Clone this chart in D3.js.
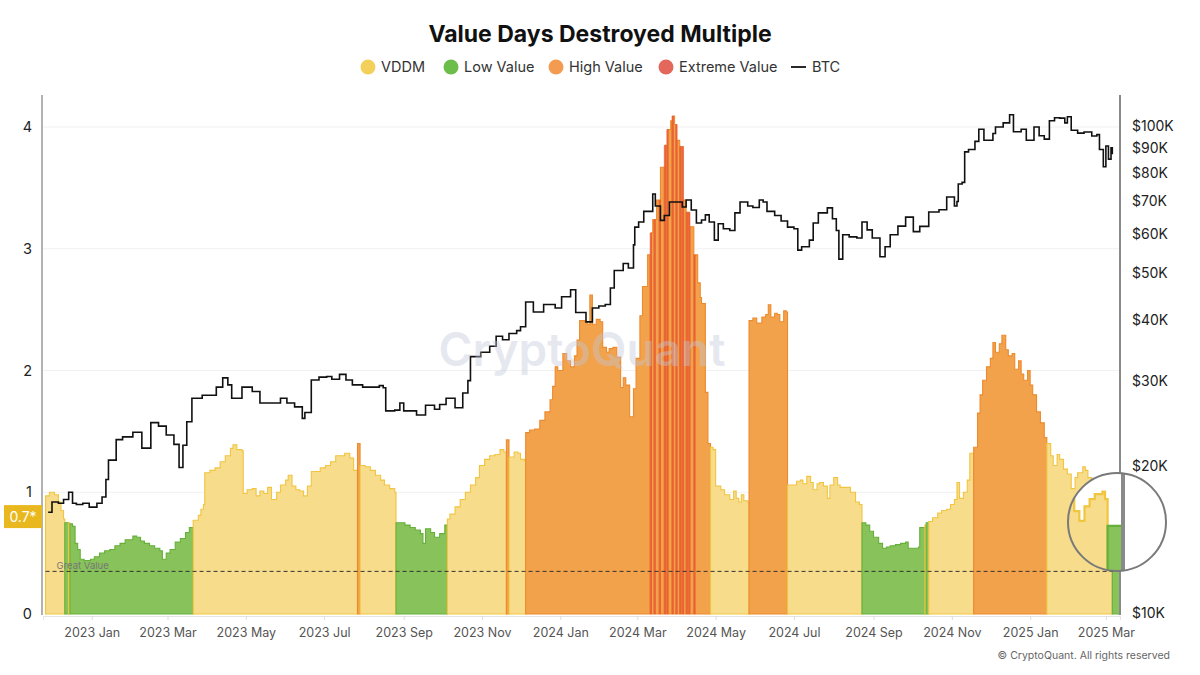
<!DOCTYPE html>
<html><head><meta charset="utf-8">
<script src="https://cdn.jsdelivr.net/npm/d3@7"></script>
<style>
body{margin:0;background:#fff;}
svg{display:block;font-family:Inter,"Noto Sans",Roboto,sans-serif;}
</style>
</head><body>
<svg id="chart" width="1200" height="675"></svg>
<script>
// ---------------- DATA ----------------
const vddmDates = [
"2022-11-26","2022-11-29","2022-12-03","2022-12-06","2022-12-08","2022-12-10","2022-12-11","2022-12-14","2022-12-15","2022-12-17",
"2022-12-19","2022-12-21","2022-12-23","2022-12-26","2022-12-31","2023-01-03","2023-01-07","2023-01-11","2023-01-15","2023-01-19",
"2023-01-23","2023-01-27","2023-01-31","2023-02-02","2023-02-05","2023-02-08","2023-02-11","2023-02-15","2023-02-19","2023-02-23",
"2023-02-25","2023-02-28","2023-03-03","2023-03-07","2023-03-11","2023-03-15","2023-03-18","2023-03-21","2023-03-25","2023-03-27",
"2023-03-29","2023-03-30","2023-04-03","2023-04-07","2023-04-11","2023-04-15","2023-04-19","2023-04-21","2023-04-24","2023-04-28",
"2023-04-29","2023-05-02","2023-05-06","2023-05-09","2023-05-12","2023-05-15","2023-05-18","2023-05-21","2023-05-25","2023-05-28",
"2023-06-01","2023-06-03","2023-06-06","2023-06-09","2023-06-12","2023-06-15","2023-06-18","2023-06-21","2023-06-24","2023-06-28",
"2023-07-02","2023-07-06","2023-07-10","2023-07-13","2023-07-17","2023-07-21","2023-07-24","2023-07-27","2023-07-29","2023-08-02",
"2023-08-06","2023-08-10","2023-08-14","2023-08-17","2023-08-21","2023-08-25","2023-08-26","2023-08-29","2023-09-02","2023-09-06",
"2023-09-10","2023-09-14","2023-09-16","2023-09-18","2023-09-22","2023-09-25","2023-09-29","2023-10-03","2023-10-05","2023-10-07",
"2023-10-11","2023-10-15","2023-10-19","2023-10-23","2023-10-27","2023-10-30","2023-11-03","2023-11-07","2023-11-11","2023-11-15",
"2023-11-18","2023-11-20","2023-11-22","2023-11-26","2023-11-29","2023-12-01","2023-12-04","2023-12-05","2023-12-08","2023-12-12",
"2023-12-16","2023-12-20","2023-12-24","2023-12-26","2023-12-28","2023-12-30","2024-01-03","2024-01-06","2024-01-09","2024-01-12",
"2024-01-14","2024-01-16","2024-01-20","2024-01-22","2024-01-24","2024-01-26","2024-01-29","2024-02-01","2024-02-03","2024-02-06",
"2024-02-08","2024-02-11","2024-02-14","2024-02-17","2024-02-19","2024-02-21","2024-02-24","2024-02-27","2024-02-29","2024-03-03",
"2024-03-05","2024-03-09","2024-03-11","2024-03-13","2024-03-16","2024-03-19","2024-03-22","2024-03-24","2024-03-27","2024-03-28",
"2024-03-30","2024-04-01","2024-04-03","2024-04-06","2024-04-08","2024-04-11","2024-04-14","2024-04-17","2024-04-19","2024-04-20",
"2024-04-23","2024-04-25","2024-04-27","2024-04-29","2024-05-01","2024-05-05","2024-05-08","2024-05-12","2024-05-15","2024-05-17",
"2024-05-19","2024-05-21","2024-05-23","2024-05-26","2024-05-27","2024-05-30","2024-06-02","2024-06-06","2024-06-09","2024-06-11",
"2024-06-13","2024-06-16","2024-06-18","2024-06-20","2024-06-23","2024-06-25","2024-06-26","2024-06-30","2024-07-03","2024-07-06",
"2024-07-08","2024-07-11","2024-07-14","2024-07-16","2024-07-19","2024-07-21","2024-07-24","2024-07-27","2024-07-29","2024-08-01",
"2024-08-04","2024-08-06","2024-08-10","2024-08-14","2024-08-18","2024-08-21","2024-08-23","2024-08-26","2024-08-29","2024-09-01",
"2024-09-05","2024-09-08","2024-09-11","2024-09-14","2024-09-18","2024-09-22","2024-09-26","2024-09-28","2024-10-02","2024-10-06",
"2024-10-07","2024-10-10","2024-10-11","2024-10-12","2024-10-14","2024-10-17","2024-10-21","2024-10-24","2024-10-28","2024-10-31",
"2024-11-03","2024-11-05","2024-11-07","2024-11-10","2024-11-13","2024-11-15","2024-11-18","2024-11-21","2024-11-23","2024-11-25",
"2024-11-28","2024-12-01","2024-12-03","2024-12-05","2024-12-08","2024-12-10","2024-12-13","2024-12-15","2024-12-18","2024-12-20",
"2024-12-23","2024-12-25","2024-12-27","2024-12-30","2025-01-01","2025-01-03","2025-01-06","2025-01-09","2025-01-12","2025-01-14",
"2025-01-17","2025-01-19","2025-01-22","2025-01-24","2025-01-27","2025-01-30","2025-02-02","2025-02-05","2025-02-07","2025-02-11",
"2025-02-13","2025-02-15","2025-02-18","2025-02-20","2025-02-21","2025-02-23","2025-02-25","2025-02-27","2025-03-01","2025-03-04",
"2025-03-05","2025-03-06","2025-03-12"];
const vddmValues = [
0.97,1.00,0.98,0.92,0.85,0.78,0.75,0.75,0.74,0.72,
0.58,0.53,0.45,0.44,0.45,0.47,0.50,0.52,0.53,0.56,
0.58,0.61,0.61,0.64,0.63,0.60,0.58,0.56,0.54,0.52,
0.45,0.50,0.53,0.59,0.62,0.67,0.71,0.77,0.81,0.86,
0.90,1.16,1.18,1.20,1.25,1.30,1.36,1.39,1.35,1.34,
0.99,1.02,1.03,0.97,1.01,0.99,1.04,0.94,1.00,1.06,
1.10,1.14,1.05,1.02,1.01,0.97,1.05,1.17,1.17,1.20,
1.22,1.25,1.30,1.30,1.32,1.28,1.18,1.40,1.22,1.21,
1.18,1.14,1.10,1.06,1.03,1.00,0.75,0.75,0.73,0.71,
0.69,0.66,0.58,0.70,0.67,0.63,0.66,0.73,0.78,0.82,
0.88,0.94,1.00,1.06,1.12,1.22,1.27,1.30,1.31,1.35,
1.33,1.43,1.29,1.33,1.32,1.27,1.26,1.49,1.51,1.52,
1.59,1.66,1.76,1.87,2.03,2.00,2.14,2.08,2.03,2.12,
2.25,2.41,2.40,2.38,2.62,2.38,2.42,2.40,2.19,2.15,
2.18,2.19,2.11,1.86,1.94,1.88,1.62,1.85,2.10,2.45,
2.69,2.95,3.13,3.24,3.40,3.67,3.85,3.98,4.05,4.09,
4.02,3.89,3.84,3.40,3.30,3.18,2.95,2.72,2.60,2.55,
1.82,1.40,1.37,1.35,1.05,1.02,0.98,0.94,1.01,0.95,
0.92,0.98,0.93,0.92,2.41,2.43,2.39,2.44,2.46,2.54,
2.44,2.47,2.46,2.40,2.49,2.48,1.06,1.06,1.09,1.10,
1.07,1.13,1.08,1.02,1.07,1.08,1.05,0.95,1.06,1.12,
1.06,1.04,1.04,1.00,0.92,0.90,0.75,0.73,0.68,0.63,
0.58,0.54,0.55,0.56,0.57,0.58,0.59,0.54,0.54,0.55,
0.71,0.71,0.73,0.75,0.76,0.79,0.83,0.85,0.86,0.90,
0.94,1.08,0.95,1.00,1.10,1.32,1.37,1.65,1.80,1.92,
2.03,2.10,2.23,2.15,2.22,2.29,2.17,2.12,2.14,2.01,
2.08,1.97,1.92,2.00,1.88,1.80,1.66,1.57,1.45,1.40,
1.30,1.22,1.31,1.27,1.19,1.15,1.03,1.12,1.16,1.21,
1.18,1.12,1.00,0.88,0.80,0.76,0.82,0.85,0.87,0.88,
0.85,0.74,0.74];

// category periods: each starts at the date and runs to the next start
const segmentStarts = [
"2022-11-26","2022-12-11","2022-12-14","2022-12-15","2023-03-21","2023-07-27","2023-07-29","2023-08-26","2023-10-05","2023-11-20",
"2023-11-22","2023-12-05","2024-03-11","2024-03-12","2024-03-14","2024-03-15","2024-03-18","2024-03-19","2024-03-22","2024-03-23",
"2024-03-24","2024-03-25","2024-03-28","2024-03-29","2024-03-31","2024-04-01","2024-04-03","2024-04-04","2024-04-05","2024-04-06",
"2024-04-08","2024-04-09","2024-04-10","2024-04-11","2024-04-14","2024-04-15","2024-04-27","2024-05-27","2024-06-26","2024-08-23",
"2024-10-11","2024-10-12","2024-10-14","2024-11-18","2025-01-14","2025-03-06"];
const segmentCategories = [
"vddm","low","vddm","low","vddm","high","vddm","low","vddm","high",
"vddm","high","extreme","high","extreme","high","extreme","high","extreme","high",
"extreme","high","extreme","high","extreme","high","extreme","high","extreme","high",
"extreme","high","extreme","high","extreme","high","vddm","high","vddm","low",
"vddm","low","vddm","high","vddm","low"];

const btcDates = [
"2022-11-28","2022-12-01","2022-12-06","2022-12-10","2022-12-14","2022-12-17","2022-12-20","2022-12-25","2022-12-30","2023-01-05",
"2023-01-09","2023-01-12","2023-01-14","2023-01-20","2023-01-25","2023-02-02","2023-02-09","2023-02-13","2023-02-16","2023-02-22",
"2023-02-28","2023-03-06","2023-03-10","2023-03-13","2023-03-16","2023-03-20","2023-03-28","2023-04-08","2023-04-13","2023-04-17",
"2023-04-20","2023-04-28","2023-05-06","2023-05-12","2023-05-20","2023-05-28","2023-06-02","2023-06-08","2023-06-14","2023-06-16",
"2023-06-21","2023-06-27","2023-07-03","2023-07-07","2023-07-13","2023-07-18","2023-07-23","2023-07-31","2023-08-07","2023-08-13",
"2023-08-16","2023-08-18","2023-08-25","2023-08-29","2023-09-01","2023-09-11","2023-09-18","2023-09-25","2023-09-29","2023-10-04",
"2023-10-11","2023-10-17","2023-10-21","2023-10-23","2023-10-31","2023-11-07","2023-11-12","2023-11-17","2023-11-22","2023-11-28",
"2023-12-01","2023-12-05","2023-12-11","2023-12-19","2023-12-28","2024-01-02","2024-01-09","2024-01-13","2024-01-21","2024-01-26",
"2024-01-31","2024-02-05","2024-02-09","2024-02-12","2024-02-19","2024-02-23","2024-02-27","2024-02-28","2024-03-02","2024-03-06",
"2024-03-13","2024-03-15","2024-03-19","2024-03-22","2024-03-26","2024-03-31","2024-04-05","2024-04-08","2024-04-12","2024-04-16",
"2024-04-20","2024-04-23","2024-04-26","2024-04-30","2024-05-03","2024-05-07","2024-05-12","2024-05-16","2024-05-20","2024-05-26",
"2024-05-30","2024-06-04","2024-06-07","2024-06-10","2024-06-16","2024-06-21","2024-06-26","2024-07-01","2024-07-04","2024-07-07",
"2024-07-13","2024-07-16","2024-07-20","2024-07-27","2024-07-31","2024-08-03","2024-08-05","2024-08-08","2024-08-13","2024-08-19",
"2024-08-23","2024-08-27","2024-08-31","2024-09-06","2024-09-10","2024-09-14","2024-09-20","2024-09-26","2024-10-02","2024-10-07",
"2024-10-14","2024-10-22","2024-10-28","2024-11-03","2024-11-05","2024-11-06","2024-11-09","2024-11-11","2024-11-14","2024-11-19",
"2024-11-22","2024-11-26","2024-12-03","2024-12-05","2024-12-11","2024-12-16","2024-12-19","2024-12-25","2024-12-29","2025-01-04",
"2025-01-08","2025-01-12","2025-01-16","2025-01-20","2025-01-24","2025-01-28","2025-01-30","2025-02-02","2025-02-07","2025-02-12",
"2025-02-18","2025-02-22","2025-02-24","2025-02-27","2025-03-01","2025-03-03","2025-03-05","2025-03-06"];
const btcPrices = [
16100,16900,16800,17100,17700,16800,16700,16800,16500,16800,
17300,18800,20600,22700,23000,23500,21800,21800,24600,24200,
23200,22200,19900,22100,24700,27600,28000,29100,30400,29400,
27600,29100,28500,27000,27000,27600,27000,26500,25100,25800,
30100,30500,30600,30200,30900,30100,29400,29100,29100,29300,
29000,26000,26100,27000,26000,25500,26700,26200,26800,27600,
26400,28300,30000,33600,34300,35300,37000,36400,37500,38000,
38700,43500,41500,43000,42300,44600,46100,41400,39600,42300,
42700,43000,46500,50500,52200,51100,57000,62000,63500,66800,
72500,68500,64000,65500,69800,69800,68200,70500,67200,63200,
64100,65700,63500,58300,63000,61500,61000,66300,69800,68500,
68000,70500,69800,66800,65500,63800,62000,61500,55600,56500,
58300,63200,66300,67900,64500,61000,53300,59800,59200,58900,
63500,61200,58900,53900,56500,59800,62300,65000,60700,62200,
66600,67300,71500,68500,70000,76000,76600,88500,89500,93000,
98500,93500,96500,99500,101500,105500,97300,98500,93500,99500,
95500,94000,102500,104000,103800,101500,104500,98000,96700,97200,
95400,96000,89500,82500,91000,85500,90200,87500];

const leftTicks = [0, 1, 2, 3, 4];
const rightTicks = [10000,20000,30000,40000,50000,60000,70000,80000,90000,100000];
const monthTicks = ["2023-01-01","2023-03-01","2023-05-01","2023-07-01","2023-09-01","2023-11-01",
"2024-01-01","2024-03-01","2024-05-01","2024-07-01","2024-09-01","2024-11-01","2025-01-01","2025-03-01"];
const xDomain = ["2022-11-24","2025-03-12"];
const greatValueLevel = 0.35;
const latestLabel = "0.7*";
const latestLabelLevel = 0.8;
const legendNames = ["VDDM","Low Value","High Value","Extreme Value","BTC"];
const legendKeys = ["vddm","low","high","extreme","btc"];

// ---------------- STYLE ----------------
const fills   = {vddm:"#f6dc8b", low:"#88c25a", high:"#f1a24b", extreme:"#ee6a3c"};
const strokes = {vddm:"#f1c540", low:"#66b03a", high:"#ee8a2e", extreme:"#e65530"};
const strokeW = {vddm:1.1, low:1.1, high:1.1, extreme:0.6};
const legendColors = {vddm:"#f3d05a", low:"#6dbd4b", high:"#f39b50", extreme:"#e4675b"};

const parse = d3.timeParse("%Y-%m-%d");
const svg = d3.select("#chart");
const W = 1200;
const plotLeft = 43, plotRight = 1120, plotTop = 95, plotBottom = 615;

const x = d3.scaleTime().domain(xDomain.map(parse)).range([plotLeft, plotRight]);
const yL = d3.scaleLinear().domain([0, 4]).range([614, 127]);
const yR = d3.scaleLog().domain([10000, 100000]).range([613, 126]);

// title
svg.append("text").attr("x", W/2).attr("y", 42).attr("text-anchor","middle")
  .attr("font-size", 23).attr("font-weight", 700).attr("fill","#111")
  .text("Value Days Destroyed Multiple");

// legend
const legendX = [368, 451, 556, 666, 791];
const lg = svg.append("g").attr("font-size", 14.5).attr("fill", "#333");
legendKeys.forEach((k, i) => {
  if (k === "btc") {
    lg.append("line").attr("x1", legendX[i]).attr("x2", legendX[i] + 15)
      .attr("y1", 67).attr("y2", 67).attr("stroke", "#111").attr("stroke-width", 1.8);
    lg.append("text").attr("x", legendX[i] + 21).attr("y", 72).text(legendNames[i]);
  } else {
    lg.append("circle").attr("cx", legendX[i]).attr("cy", 67).attr("r", 7.5).attr("fill", legendColors[k]);
    lg.append("text").attr("x", legendX[i] + 13).attr("y", 72).text(legendNames[i]);
  }
});

// gridlines
svg.append("g").selectAll("line").data(leftTicks.filter(t => t > 0)).join("line")
  .attr("x1", plotLeft).attr("x2", plotRight).attr("y1", d => yL(d)).attr("y2", d => yL(d))
  .attr("stroke", "#f1f1f1").attr("stroke-width", 1);

// ---------------- MARKS ----------------
const marks = svg.append("g").attr("id", "plotMarks");
const pts = vddmDates.map((d, i) => ({date: parse(d), v: vddmValues[i]}));
function valueAt(t) { let v = pts[0].v; for (const p of pts) { if (p.date <= t) v = p.v; else break; } return v; }
const endDate = pts[pts.length - 1].date;
const segs = segmentStarts.map((s, i) => ({
  t0: parse(s),
  t1: i < segmentStarts.length - 1 ? parse(segmentStarts[i + 1]) : endDate,
  cat: segmentCategories[i]
}));
function segPoints(t0, t1) {
  const arr = [{date: t0, v: valueAt(t0)}];
  pts.forEach(p => { if (p.date > t0 && p.date < t1) arr.push(p); });
  arr.push({date: t1, v: valueAt(new Date(+t1 - 1))});
  return arr;
}
const area = d3.area().curve(d3.curveStepAfter)
  .x(d => x(d.date)).y0(yL(0)).y1(d => yL(d.v));

const ordered = segs.filter(s => s.cat !== "extreme").concat(segs.filter(s => s.cat === "extreme"));
marks.append("g").selectAll("path").data(ordered).join("path")
  .attr("d", s => area(segPoints(s.t0, s.t1)))
  .attr("fill", s => fills[s.cat]).attr("stroke", s => strokes[s.cat])
  .attr("stroke-width", s => strokeW[s.cat]).attr("stroke-linejoin", "miter");

// great value dashed line
marks.append("line").attr("x1", x(pts[0].date)).attr("x2", plotRight)
  .attr("y1", yL(greatValueLevel)).attr("y2", yL(greatValueLevel))
  .attr("stroke", "#333").attr("stroke-width", 1).attr("stroke-dasharray", "4,3");

// BTC line
const btc = btcDates.map((d, i) => ({date: parse(d), p: btcPrices[i]}));
marks.append("path").datum(btc)
  .attr("d", d3.line().curve(d3.curveStepAfter).x(d => x(d.date)).y(d => yR(d.p)))
  .attr("fill", "none").attr("stroke", "#111").attr("stroke-width", 1.6);

// right axis line (part of marks so it appears in the lens)
marks.append("line").attr("x1", plotRight).attr("x2", plotRight).attr("y1", plotTop).attr("y2", plotBottom)
  .attr("stroke", "#8a8a8a").attr("stroke-width", 2);

// "Great Value" label
svg.append("text").attr("x", x(pts[0].date) + 11).attr("y", yL(greatValueLevel) - 2)
  .attr("font-size", 9.5).attr("fill", "#777").text("Great Value");

// watermark
svg.append("text").attr("x", 582).attr("y", 366).attr("text-anchor", "middle")
  .attr("font-size", 46).attr("font-weight", 600).attr("fill", "#c3c8dc").attr("opacity", 0.4)
  .text("CryptoQuant");

// ---------------- AXES ----------------
svg.append("line").attr("x1", 42).attr("x2", 42).attr("y1", plotTop).attr("y2", plotBottom)
  .attr("stroke", "#999").attr("stroke-width", 1.5);

const axL = svg.append("g").attr("transform", "translate(42,0)")
  .call(d3.axisLeft(yL).tickValues(leftTicks).tickSize(0).tickPadding(10).tickFormat(d3.format("d")));
axL.select(".domain").remove();
axL.selectAll("text").attr("font-size", 14.5).attr("fill", "#222").attr("font-family", "Inter,'Noto Sans',sans-serif");

const axR = svg.append("g").attr("transform", `translate(${plotRight},0)`)
  .call(d3.axisRight(yR).tickValues(rightTicks).tickSize(0).tickPadding(12).tickFormat(d => "$" + (d / 1000) + "K"));
axR.select(".domain").remove();
axR.selectAll("text").attr("font-size", 14).attr("fill", "#222").attr("font-family", "Inter,'Noto Sans',sans-serif");

const axB = svg.append("g").attr("transform", `translate(0,${plotBottom + 1})`)
  .call(d3.axisBottom(x).tickValues(monthTicks.map(parse)).tickSize(4).tickPadding(8).tickFormat(d3.timeFormat("%Y %b")));
axB.select(".domain").attr("stroke", "#e4e4e4");
axB.selectAll(".tick line").attr("stroke", "#ddd");
axB.selectAll("text").attr("font-size", 12.5).attr("fill", "#555").attr("font-family", "Inter,'Noto Sans',sans-serif");

// latest value marker
const lv = svg.append("g");
lv.append("rect").attr("x", 4).attr("y", yL(latestLabelLevel) - 11.5).attr("width", 38).attr("height", 23).attr("fill", "#e9b81f");
lv.append("text").attr("x", 23).attr("y", yL(latestLabelLevel) + 5).attr("text-anchor", "middle")
  .attr("font-size", 14).attr("fill", "#fff").text(latestLabel);

// ---------------- LENS ----------------
const cx = 1117, cy = 522, r = 49;
svg.append("defs").append("clipPath").attr("id", "lensClip")
  .append("circle").attr("cx", cx).attr("cy", cy).attr("r", r);
const lens = svg.append("g").attr("clip-path", "url(#lensClip)");
lens.append("circle").attr("cx", cx).attr("cy", cy).attr("r", r).attr("fill", "#fff");
lens.append("use").attr("href", "#plotMarks")
  .attr("transform", `translate(${cx},${cy}) scale(2) translate(${-cx},${-cy})`);
svg.append("circle").attr("cx", cx).attr("cy", cy).attr("r", r)
  .attr("fill", "none").attr("stroke", "#7a7a7a").attr("stroke-width", 2);

// copyright
svg.append("text").attr("x", 1170).attr("y", 659).attr("text-anchor", "end")
  .attr("font-size", 10.5).attr("fill", "#666").text("© CryptoQuant. All rights reserved");
</script>
</body></html>
